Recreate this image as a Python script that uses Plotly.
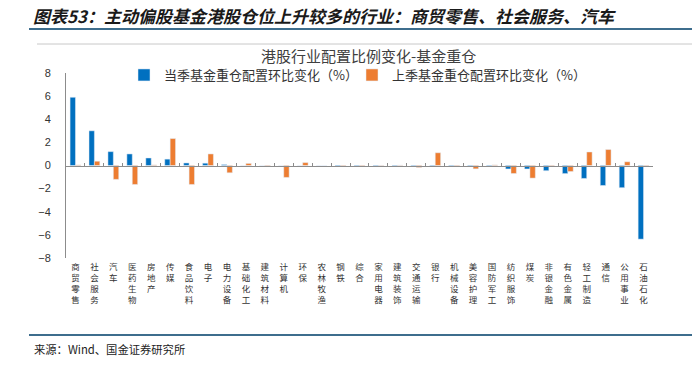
import plotly.graph_objects as go

categories = ["商贸零售", "社会服务", "汽车", "医药生物", "房地产", "传媒", "食品饮料", "电子",
              "电力设备", "基础化工", "建筑材料", "计算机", "环保", "农林牧渔", "钢铁", "综合",
              "家用电器", "建筑装饰", "交通运输", "银行", "机械设备", "美容护理", "国防军工",
              "纺织服饰", "煤炭", "非银金融", "有色金属", "轻工制造", "通信", "公用事业", "石油石化"]
current_q = [5.9, 3.0, 1.2, 1.0, 0.65, 0.55, 0.22, 0.2, 0.08, 0.0, 0.0, 0.0, 0.0, 0.0, -0.08,
             -0.05, -0.05, -0.05, -0.05, -0.05, -0.05, -0.05, -0.05, -0.3, -0.3, -0.45, -0.7,
             -1.12, -1.73, -1.92, -6.37]
prev_q = [0.05, 0.37, -1.2, -1.64, 0.05, 2.33, -1.64, 1.0, -0.63, 0.18, -0.05, -1.03, 0.25, 0.0,
          -0.05, -0.05, -0.03, 0.03, -0.17, 1.1, -0.05, -0.29, 0.05, -0.69, -1.09, -0.05, -0.52,
          1.17, 1.38, 0.32, -0.05]
y_ticks = [-8, -6, -4, -2, 0, 2, 4, 6, 8]
name_cur = "当季基金重仓配置环比变化（%）"
name_prev = "上季基金重仓配置环比变化（%）"

W, H = 692, 365
L, R, T, B = 66, 39, 73, 107
PW, PH = W - L - R, H - T - B


def px(x):
    return (x - L) / PW


def py(y):
    return (H - B - y) / PH


vert_labels = ["<br>".join(list(c)) for c in categories]

fig = go.Figure()
fig.add_trace(go.Bar(x=categories, y=current_q, name=name_cur, marker_color="#0070C0"))
fig.add_trace(go.Bar(x=categories, y=prev_q, name=name_prev, marker_color="#ED7D31"))
# helper trace for the zero-line axis with boundary ticks
fig.add_trace(go.Scatter(x=categories, y=[0] * len(categories), xaxis="x2", mode="markers",
                         marker=dict(opacity=0), showlegend=False, hoverinfo="skip"))

fig.update_layout(
    width=W, height=H,
    margin=dict(l=L, r=R, t=T, b=B),
    paper_bgcolor="white", plot_bgcolor="white",
    barmode="group", bargap=0.43, bargroupgap=0,
    font=dict(family="Noto Sans CJK SC", color="#333333"),
    xaxis=dict(type="category", categoryorder="array", categoryarray=categories,
               tickvals=categories, ticktext=vert_labels, range=[-0.5, len(categories) - 0.5],
               showline=False, ticks="", showgrid=False,
               tickfont=dict(size=8.5, color="#333333"), ticklabelstandoff=2),
    xaxis2=dict(type="category", categoryorder="array", categoryarray=categories,
                overlaying="x", anchor="free", position=0.5, range=[-0.5, len(categories) - 0.5],
                showline=True, linecolor="#8c8c8c", linewidth=1, ticks="inside", ticklen=3,
                tickcolor="#8c8c8c", tickson="boundaries", showticklabels=False, showgrid=False),
    yaxis=dict(range=[-8, 8], tickvals=y_ticks, showgrid=False, zeroline=False,
               showline=True, linecolor="#8c8c8c", linewidth=1, ticks="",
               tickfont=dict(family="Liberation Sans, Arial", size=11, color="#333333"),
               ticklabelstandoff=12),
    legend=dict(orientation="h", x=px(124), y=py(75), xanchor="left", yanchor="middle",
                font=dict(size=13, color="#333333"), bgcolor="rgba(0,0,0,0)",
                entrywidth=183, itemwidth=30, traceorder="normal"),
    showlegend=True,
)

annotations = [
    dict(text="<b><i>图表53：主动偏股基金港股仓位上升较多的行业：商贸零售、社会服务、汽车</i></b>",
         x=px(31), y=py(15), xanchor="left", yanchor="middle", showarrow=False,
         font=dict(size=17, color="#1a1a1a")),
    dict(text="港股行业配置比例变化-基金重仓", x=px(368), y=py(55), xanchor="center",
         yanchor="middle", showarrow=False, font=dict(size=15, color="#404040")),
    dict(text="来源：Wind、国金证券研究所", x=px(32), y=py(349), xanchor="left",
         yanchor="middle", showarrow=False, font=dict(size=11.3, color="#222222")),
]
for a in annotations:
    a.update(xref="paper", yref="paper")
fig.update_layout(annotations=annotations)

shapes = [
    dict(type="line", x0=px(29), x1=px(692), y0=py(29), y1=py(29),
         line=dict(color="#3D6D8D", width=2)),
    dict(type="line", x0=px(37), x1=px(692), y0=py(44), y1=py(44),
         line=dict(color="#C8C8C8", width=1)),
    dict(type="line", x0=px(29), x1=px(692), y0=py(335), y1=py(335),
         line=dict(color="#3D6D8D", width=2)),
]
for s in shapes:
    s.update(xref="paper", yref="paper")
fig.update_layout(shapes=shapes)

fig.write_html("out.html", config={"displayModeBar": False},
               post_script="document.body.style.margin='0';document.body.style.padding='0';")
